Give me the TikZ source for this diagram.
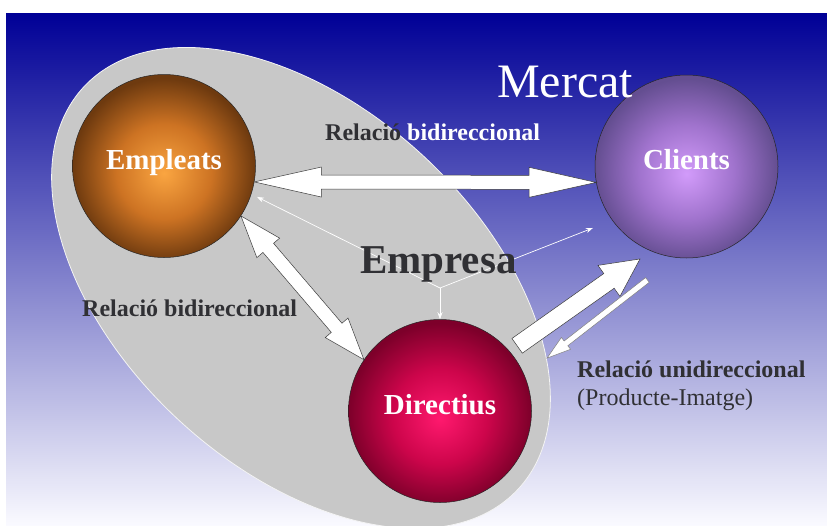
\documentclass[tikz,border=0pt]{standalone}
\usepackage{fontspec}
\setmainfont{Liberation Serif}
\usetikzlibrary{calc,arrows.meta}
\definecolor{bgtop}{RGB}{0,0,150}
\definecolor{bgmid}{RGB}{55,55,190}
\definecolor{bgbot}{RGB}{250,250,255}
\definecolor{ellgray}{RGB}{200,200,200}
\definecolor{txtdark}{RGB}{48,48,52}
\definecolor{outl}{RGB}{60,60,60}
\definecolor{orIn}{RGB}{250,165,65}
\definecolor{orMid}{RGB}{205,115,35}
\definecolor{orOut}{RGB}{110,58,15}
\definecolor{puIn}{RGB}{210,155,250}
\definecolor{puMid}{RGB}{160,115,205}
\definecolor{puOut}{RGB}{100,78,145}
\definecolor{reIn}{RGB}{255,25,110}
\definecolor{reMid}{RGB}{205,5,75}
\definecolor{reOut}{RGB}{125,0,42}
\pgfdeclareradialshading{sphOr}{\pgfpoint{0bp}{-2bp}}{color(0bp)=(orIn); color(13bp)=(orMid); color(25bp)=(orOut); color(50bp)=(orOut)}
\pgfdeclareradialshading{sphPu}{\pgfpoint{0bp}{-2bp}}{color(0bp)=(puIn); color(13bp)=(puMid); color(25bp)=(puOut); color(50bp)=(puOut)}
\pgfdeclareradialshading{sphRe}{\pgfpoint{0bp}{-2bp}}{color(0bp)=(reIn); color(13bp)=(reMid); color(25bp)=(reOut); color(50bp)=(reOut)}
\tikzset{
  sphere/.style={circle, draw=black!85, line width=0.5pt, minimum size=183pt, inner sep=0pt,
    text=white, font=\bfseries\fontsize{29}{30}\selectfont, text height=20pt, text depth=14pt},
  fatarrow/.style={fill=white, draw=outl, line width=0.5pt, line join=miter},
  thinfat/.style={fill=white, draw=gray, line width=0.5pt, line join=miter},
  thinline/.style={white, line width=0.7pt, -{Stealth[length=7pt,width=5pt]}},
  reltext/.style={font=\bfseries\fontsize{24}{28}\selectfont, anchor=base west, inner sep=0pt},
}
% tail, tip, half shaft, half head, head length, style
\newcommand\myfatarrow[6]{%
  \coordinate (fh) at ($(#2)!#5!(#1)$);
  \filldraw[#6] ($(#1)!#3!90:(#2)$) -- ($(fh)!#3!-90:(#1)$) -- ($(fh)!#4!-90:(#1)$) -- (#2)
    -- ($(fh)!#4!90:(#1)$) -- ($(fh)!#3!90:(#1)$) -- ($(#1)!#3!-90:(#2)$) -- cycle;}
% tip a, tip b, half shaft, half head, head length
\newcommand\myfatdouble[5]{%
  \coordinate (fha) at ($(#1)!#5!(#2)$);
  \coordinate (fhb) at ($(#2)!#5!(#1)$);
  \filldraw[fatarrow] (#1) -- ($(fha)!#4!90:(#2)$) -- ($(fha)!#3!90:(#2)$) -- ($(fhb)!#3!-90:(#1)$)
    -- ($(fhb)!#4!-90:(#1)$) -- (#2) -- ($(fhb)!#4!90:(#1)$) -- ($(fhb)!#3!90:(#1)$)
    -- ($(fha)!#3!-90:(#2)$) -- ($(fha)!#4!-90:(#2)$) -- cycle;}
\begin{document}
\begin{tikzpicture}[x=1pt,y=-1pt]
\useasboundingbox (0,0) rectangle (827,525);
\clip (0,0) rectangle (827,525);
\fill[white] (0,0) rectangle (827,525);
\shade[top color=bgtop, middle color=bgmid, bottom color=bgbot] (6,13) rectangle (827,525);
% Empresa ellipse
\coordinate (EC) at (301,288);
\filldraw[fill=ellgray, draw=white!80!ellgray, line width=0.8pt, rotate around={-42.75:(EC)}]
  (EC) ellipse [x radius=296pt, y radius=180pt];
% spheres
\node[sphere, shade, shading=sphOr] (E) at (164,166) {Empleats};
\node[sphere, shade, shading=sphPu] (C) at (686.5,166.5) {Clients};
\node[sphere, shade, shading=sphRe] (D) at (440,411) {Directius};
% thin white lines from Empresa
\coordinate (J) at (440,288);
\coordinate (Et) at ($(E.center)+(-18.4:98pt)$);
\coordinate (Ct) at ($(C.center)+(213.3:112pt)$);
\draw[thinline] (J) -- (Et);
\draw[thinline] (J) -- (Ct);
\draw[thinline] (J) -- (D.north);
% fat arrows
\myfatdouble{E.-10}{C.190}{7pt}{15pt}{67pt}
\myfatdouble{E.-33}{D.146}{7pt}{15pt}{42pt}
\coordinate (T1) at ($(D.center)+(40.2:101pt)$);
\coordinate (T2) at ($(C.center)+(-116.7:103.5pt)$);
\myfatarrow{T1}{T2}{9pt}{19pt}{38pt}{fatarrow}
\coordinate (T3) at ($(C.center)+(-109:120pt)$);
\coordinate (T4) at ($(D.center)+(26.3:119.4pt)$);
\myfatarrow{T3}{T4}{3pt}{7.5pt}{24pt}{thinfat}
% texts
\node[anchor=base west, inner sep=0pt, text=white, font=\fontsize{48}{50}\selectfont] (mer) at (497,97) {Mercat};
\node[anchor=base west, inner sep=0pt, text=txtdark, font=\bfseries\fontsize{41}{44}\selectfont] (emp) at (360,273) {Empresa};
\node[reltext] (r1) at (325,140) {\textcolor{txtdark}{Relació} \textcolor{white}{bidireccional}};
\node[reltext, text=txtdark] (r2) at (82,316) {Relació bidireccional};
\node[reltext, text=txtdark] (r3) at (577,377) {Relació unidireccional};
\node[anchor=base west, inner sep=0pt, text=txtdark, font=\fontsize{24}{28}\selectfont] (r4) at (577,405) {(Producte-Imatge)};
\end{tikzpicture}
\end{document}
